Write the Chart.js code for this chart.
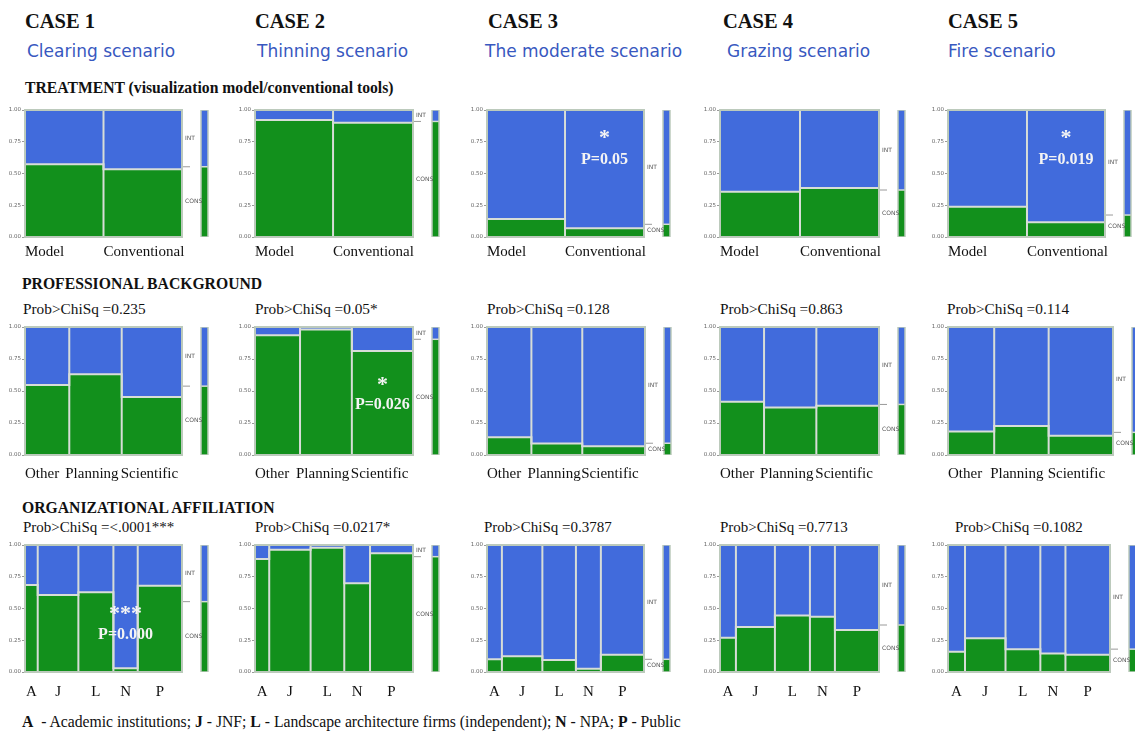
<!DOCTYPE html>
<html>
<head>
<meta charset="utf-8">
<script src="https://cdn.jsdelivr.net/npm/chart.js@4.4.1/dist/chart.umd.min.js"></script>
<style>
  body { margin: 0; background: #fff; }
  #page { position: relative; width: 1135px; height: 733px; overflow: hidden; background: #fff; }
  .t { position: absolute; white-space: nowrap; line-height: 1; font-family: 'Liberation Serif', 'Times New Roman', serif; color: #111; }
  canvas { position: absolute; }
</style>
</head>
<body>
<div id="page"></div>
<script>
// ---- data ----
const caseTitles = ['CASE 1', 'CASE 2', 'CASE 3', 'CASE 4', 'CASE 5'];
const scenarioNames = ['Clearing scenario', 'Thinning scenario', 'The moderate scenario', 'Grazing scenario', 'Fire scenario'];

const treatmentLabels = ['Model', 'Conventional'];
const backgroundLabels = ['Other', 'Planning', 'Scientific'];
const affiliationLabels = ['A', 'J', 'L', 'N', 'P'];

// column widths (share of respondents) per case
const treatmentWidths = [[0.50, 0.50], [0.494, 0.506], [0.497, 0.503], [0.503, 0.497], [0.503, 0.497]];
const backgroundWidths = [[0.282, 0.334, 0.384], [0.285, 0.328, 0.387], [0.281, 0.322, 0.397], [0.277, 0.329, 0.394], [0.28, 0.33, 0.39]];
const affiliationWidths = [
  [0.081, 0.259, 0.223, 0.155, 0.282],
  [0.09, 0.262, 0.213, 0.163, 0.272],
  [0.095, 0.258, 0.214, 0.159, 0.275],
  [0.10, 0.245, 0.22, 0.157, 0.277],
  [0.105, 0.25, 0.215, 0.155, 0.275]
];

// share of CONS answers in each column (rest is INT)
const treatmentCons = [[0.572, 0.533], [0.921, 0.90], [0.142, 0.068], [0.357, 0.386], [0.239, 0.116]];
const backgroundCons = [[0.546, 0.631, 0.454], [0.935, 0.98, 0.813], [0.138, 0.09, 0.068], [0.416, 0.371, 0.384], [0.184, 0.226, 0.151]];
const affiliationCons = [
  [0.685, 0.606, 0.628, 0.03, 0.68],
  [0.89, 0.963, 0.979, 0.698, 0.935],
  [0.10, 0.125, 0.095, 0.025, 0.135],
  [0.27, 0.355, 0.445, 0.435, 0.33],
  [0.16, 0.265, 0.18, 0.145, 0.135]
];

// overall CONS share (marginal bar)
const treatmentTotal = [0.553, 0.91, 0.10, 0.37, 0.173];
const backgroundTotal = [0.538, 0.904, 0.092, 0.395, 0.177];
const affiliationTotal = [0.554, 0.908, 0.10, 0.37, 0.18];

const probBackground = ['Prob>ChiSq =0.235', 'Prob>ChiSq =0.05*', 'Prob>ChiSq =0.128', 'Prob>ChiSq =0.863', 'Prob>ChiSq =0.114'];
const probAffiliation = ['Prob>ChiSq =<.0001***', 'Prob>ChiSq =0.0217*', 'Prob>ChiSq =0.3787', 'Prob>ChiSq =0.7713', 'Prob>ChiSq =0.1082'];

// significance notes: row, case, column
const notes = [
  { row: 0, col: 2, cell: 1, star: '*', p: 'P=0.05' },
  { row: 0, col: 4, cell: 1, star: '*', p: 'P=0.019' },
  { row: 1, col: 1, cell: 2, star: '*', p: 'P=0.026' },
  { row: 2, col: 0, cell: 3, star: '***', p: 'P=0.000' }
];

// ---- layout ----
const blue = '#416bdc';
const green = '#12901c';
const sepColor = '#d7ddd7';
const frameColor = '#bccabc';
const serif = "'Liberation Serif', 'Times New Roman', serif";

const rowTops = [110, 327, 545];
const rowHeights = [127, 128, 127];
const colLefts = [25, 255, 487, 720, 948];
const plotWidths = [[157, 158, 157, 159, 157], [157, 158, 158, 159, 165], [157, 158, 157, 159, 162]];
const labelPad = [6, 10, 11];
const labelShift = [[0, 0], [0, -4, -1], [0, 0, 0, 0, 0]];  // px nudges of the typed category labels
const noteY = [[0.82, 0.61], [0.58, 0.39], [0.49, 0.29]];

const rows = [
  { widths: treatmentWidths, cons: treatmentCons, total: treatmentTotal, labels: treatmentLabels, align: 'start' },
  { widths: backgroundWidths, cons: backgroundCons, total: backgroundTotal, labels: backgroundLabels, align: 'start' },
  { widths: affiliationWidths, cons: affiliationCons, total: affiliationTotal, labels: affiliationLabels, align: 'center' }
];

const page = document.getElementById('page');

function addText(str, x, baseline, size, opts) {
  opts = opts || {};
  const d = document.createElement('div');
  d.className = 't';
  d.style.left = x + 'px';
  d.style.top = (baseline - 0.84 * size) + 'px';
  d.style.fontSize = size + 'px';
  if (opts.bold) d.style.fontWeight = 'bold';
  if (opts.color) d.style.color = opts.color;
  if (opts.family) d.style.fontFamily = opts.family;
  if (opts.html) d.innerHTML = str; else d.textContent = str;
  page.appendChild(d);
}

// headings
const caseX = [25, 255, 488, 723, 948];
const scenX = [27, 257, 485, 727, 948];
caseTitles.forEach((t, i) => addText(t, caseX[i], 28, 20.5, { bold: true }));
scenarioNames.forEach((t, i) => addText(t, scenX[i], 57.5, 17, { color: '#3858c0', family: "'DejaVu Sans', sans-serif" }));
addText('TREATMENT (visualization model/conventional tools)', 25, 93, 15.7, { bold: true });
addText('PROFESSIONAL BACKGROUND', 22, 289, 15.7, { bold: true });
addText('ORGANIZATIONAL AFFILIATION', 22, 513, 15.7, { bold: true });
const probX2 = [23, 255, 487, 720, 947];
const probX3 = [23, 255, 484, 720, 955];
probBackground.forEach((t, i) => addText(t, probX2[i], 314, 15.3));
probAffiliation.forEach((t, i) => addText(t, probX3[i], 533, 15));
addText('<b>A</b> &nbsp;- Academic institutions; <b>J</b> - JNF; <b>L</b> - Landscape architecture firms (independent); <b>N</b> - NPA; <b>P</b> - Public', 22, 727, 15.7, { html: true });

function makeMosaic(r, c) {
  const row = rows[r];
  const widths = row.widths[c];
  const cons = row.cons[c];
  const total = row.total[c];
  const plotW = plotWidths[r][c];
  const plotH = rowHeights[r];

  const sum = widths.reduce((a, b) => a + b, 0);
  const xs = [0];
  widths.forEach(w => xs.push(xs[xs.length - 1] + w / sum));
  xs[xs.length - 1] = 1;

  const steps = cons.map((v, i) => ({ x: xs[i], y: v }));
  steps.push({ x: 1, y: cons[cons.length - 1] });

  const seps = [];
  for (let i = 1; i < xs.length - 1; i++) {
    seps.push({ x: xs[i], y: 0 }, { x: xs[i], y: 1 }, { x: xs[i], y: null });
  }

  const mx0 = 1 + 19 / plotW, mx1 = 1 + 26 / plotW;
  const xMax = 1 + 32 / plotW;
  const marg = [{ x: mx0, y: total }, { x: mx1, y: total }];
  const margBox = [{ x: mx0, y: 0 }, { x: mx0, y: 1 }, { x: mx1, y: 1 }, { x: mx1, y: 0 }, { x: mx0, y: 0 }];

  const tickVals = row.align === 'center'
    ? widths.map((w, i) => (xs[i] + xs[i + 1]) / 2 + labelShift[r][i] / plotW)
    : xs.slice(0, -1).map((v, i) => v + labelShift[r][i] / plotW);

  const note = notes.find(n => n.row === r && n.col === c);

  const cv = document.createElement('canvas');
  const cw = 25 + plotW + 32, chh = 6 + plotH + 30;
  cv.width = cw; cv.height = chh;
  cv.style.left = (colLefts[c] - 25) + 'px';
  cv.style.top = (rowTops[r] - 6) + 'px';
  page.appendChild(cv);

  const decor = {
    id: 'decor',
    afterDatasetsDraw(chart) {
      const { ctx, scales: { x, y } } = chart;
      const x0 = x.getPixelForValue(0), x1 = x.getPixelForValue(1);
      const yT = y.getPixelForValue(1), yB = y.getPixelForValue(0);
      ctx.save();
      ctx.strokeStyle = frameColor;
      ctx.lineWidth = 2;
      ctx.strokeRect(x0, yT, x1 - x0, yB - yT);

      const yt = y.getPixelForValue(total);
      ctx.strokeStyle = '#9a9a9a';
      ctx.lineWidth = 1;
      ctx.beginPath();
      ctx.moveTo(x1 + 1, yt);
      ctx.lineTo(x1 + 8, yt);
      ctx.stroke();

      ctx.fillStyle = '#555';
      ctx.font = '6px "DejaVu Sans", sans-serif';
      ctx.textAlign = 'left';
      ctx.textBaseline = 'middle';
      ctx.fillText('INT', x1 + 3, y.getPixelForValue((1 + total) / 2));
      ctx.fillText('CONS', x1 + 3, y.getPixelForValue(total / 2));

      if (note) {
        const cx = x.getPixelForValue((xs[note.cell] + xs[note.cell + 1]) / 2);
        ctx.fillStyle = '#f4f4f4';
        ctx.textAlign = 'center';
        ctx.font = 'bold 22px ' + serif;
        ctx.fillText(note.star, cx, y.getPixelForValue(noteY[r][0]) + 5);
        ctx.font = 'bold 16px ' + serif;
        ctx.fillText(note.p, cx, y.getPixelForValue(noteY[r][1]));
      }
      ctx.restore();
    }
  };

  const line = { pointRadius: 0, tension: 0 };

  new Chart(cv, {
    type: 'line',
    data: {
      datasets: [
        Object.assign({ data: seps, borderColor: sepColor, borderWidth: 2, fill: false }, line),
        Object.assign({ data: margBox, borderColor: frameColor, borderWidth: 1.5, fill: false }, line),
        Object.assign({ data: steps.map(p => ({ ...p })), stepped: 'before', borderColor: sepColor, borderWidth: 2, fill: 'origin', backgroundColor: green }, line),
        Object.assign({ data: steps.map(p => ({ ...p })), stepped: 'before', borderColor: 'rgba(0,0,0,0)', borderWidth: 1, fill: 'end', backgroundColor: blue }, line),
        Object.assign({ data: marg.map(p => ({ ...p })), borderColor: sepColor, borderWidth: 1.5, fill: 'origin', backgroundColor: green }, line),
        Object.assign({ data: marg.map(p => ({ ...p })), borderColor: 'rgba(0,0,0,0)', borderWidth: 1, fill: 'end', backgroundColor: blue }, line)
      ]
    },
    options: {
      responsive: false,
      animation: false,
      events: [],
      layout: { padding: { top: 6, left: 0, right: 0, bottom: 0 } },
      plugins: { legend: { display: false }, tooltip: { enabled: false } },
      scales: {
        x: {
          type: 'linear',
          min: 0,
          max: xMax,
          bounds: 'data',
          grid: { display: false, drawTicks: false },
          border: { display: false },
          afterBuildTicks: s => { s.ticks = tickVals.map(v => ({ value: v })); },
          afterFit: s => { s.height = 30; },
          ticks: {
            autoSkip: false,
            maxRotation: 0,
            align: row.align,
            padding: labelPad[r],
            color: '#111',
            font: { family: serif, size: 15 },
            callback: (v, i) => row.labels[i]
          }
        },
        y: {
          min: 0,
          max: 1,
          grid: { drawOnChartArea: false, drawTicks: true, tickLength: 3, color: '#999' },
          border: { display: false },
          afterFit: s => { s.width = 25; },
          ticks: {
            stepSize: 0.25,
            padding: 1,
            color: '#666',
            font: { family: 'DejaVu Sans', size: 5.5 },
            callback: v => v.toFixed(2)
          }
        }
      }
    },
    plugins: [decor]
  });
}

for (let r = 0; r < 3; r++) {
  for (let c = 0; c < 5; c++) makeMosaic(r, c);
}
</script>
</body>
</html>
